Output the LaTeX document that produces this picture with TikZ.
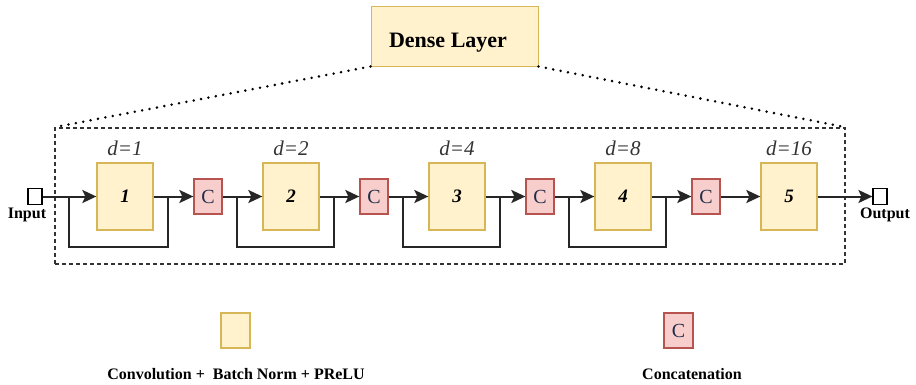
\documentclass[tikz,border=0pt]{standalone}
\usepackage{fontspec}
\setmainfont{Liberation Serif}
\usetikzlibrary{arrows.meta,calc}
\definecolor{yfill}{HTML}{FFF2CC}
\definecolor{ydraw}{HTML}{D6B656}
\definecolor{rfill}{HTML}{F8CECC}
\definecolor{rdraw}{HTML}{B85450}
\definecolor{dgray}{HTML}{333333}
\definecolor{ctext}{HTML}{1F2D4A}
\tikzset{
  convbox/.style={draw=ydraw, fill=yfill, line width=1.3pt, minimum width=56pt, minimum height=67pt, inner sep=0pt,
    font=\fontsize{19}{21}\selectfont\bfseries\itshape},
  catbox/.style={draw=rdraw, fill=rfill, line width=1.3pt, minimum width=28pt, minimum height=35pt, inner sep=0pt,
    font=\fontsize{20}{22}\selectfont, text=ctext},
  ioport/.style={draw=black, fill=white, line width=1.2pt, minimum width=14pt, minimum height=16pt, inner sep=0pt},
  dlabel/.style={font=\fontsize{21}{23}\selectfont\itshape, text=dgray, inner sep=0pt},
  blabel/.style={font=\fontsize{16}{18}\selectfont\bfseries, inner sep=0pt},
  conn/.style={line width=2pt, draw=black!85},
  arr/.style={conn, -{Stealth[length=14pt,width=13pt,inset=3pt]}},
  dotline/.style={line width=2.8pt, dash pattern=on 0pt off 7.5pt, line cap=round},
}
\begin{document}
\begin{tikzpicture}[x=1pt,y=-1pt]
\useasboundingbox (0,0) rectangle (916,384);
% dashed frame
\node[draw=black!80, dash pattern=on 4pt off 3pt, line width=1.5pt, minimum width=790pt, minimum height=136pt, inner sep=0pt] (dbox) at (450,196) {};
% dense layer
\node[draw=ydraw, fill=yfill, line width=1pt, minimum width=167pt, minimum height=60pt, inner sep=0pt] (dense) at (454.5,36) {};
\node[font=\fontsize{22}{24}\selectfont\bfseries, inner sep=0pt] (densetxt) at (448,43) {Dense Layer};
\draw[dotline] (dense.south west) -- (dbox.north west);
\draw[dotline] (dense.south east) -- (dbox.north east);
% blocks
\foreach \i/\d in {1/1,2/2,3/4,4/8,5/16} {
  \node[convbox] (b\i) at ({125+166*(\i-1)},196.5) {\i};
  \node[dlabel] (d\i) at ({125+166*(\i-1)},148) {d=\d};
}
\foreach \i in {1,...,4} {
  \node[catbox] (c\i) at ({208+166*(\i-1)},196.5) {C};
}
% ports
\node[ioport] (in) at (35,196.5) {};
\node[blabel] (inl) at (27,215) {Input};
\node[ioport] (out) at (880,196.5) {};
\node[blabel] (outl) at (885,215) {Output};
% main connectors
\draw[arr] (in.east) -- (b1.west);
\foreach \i in {1,...,4} {
  \draw[arr] (b\i.east) -- (c\i.west);
}
\foreach \i [evaluate=\i as \j using int(\i+1)] in {1,...,4} {
  \draw[arr] (c\i.east) -- (b\j.west);
}
\draw[arr] (b5.east) -- (out.west);
% skip connections
\coordinate (s1) at (69,196.5);
\foreach \i in {2,3,4} {
  \coordinate (s\i) at ($(c\the\numexpr\i-1\relax.east)+(14,0)$);
}
\foreach \i in {1,...,4} {
  \coordinate (e\i) at ($(b\i.east)+(14,0)$);
  \draw[conn] (s\i) -- ++(0,50.5) -| (e\i);
}
% legend
\node[draw=ydraw, fill=yfill, line width=1.3pt, minimum width=29pt, minimum height=35pt, inner sep=0pt] (lg1) at (235.5,330.5) {};
\node[blabel] (lg1t) at (236,374) {Convolution +\ \ Batch Norm + PReLU};
\node[catbox, minimum width=29pt] (lg2) at (678.5,330.5) {C};
\node[blabel] (lg2t) at (692,374) {Concatenation};
\end{tikzpicture}
\end{document}
